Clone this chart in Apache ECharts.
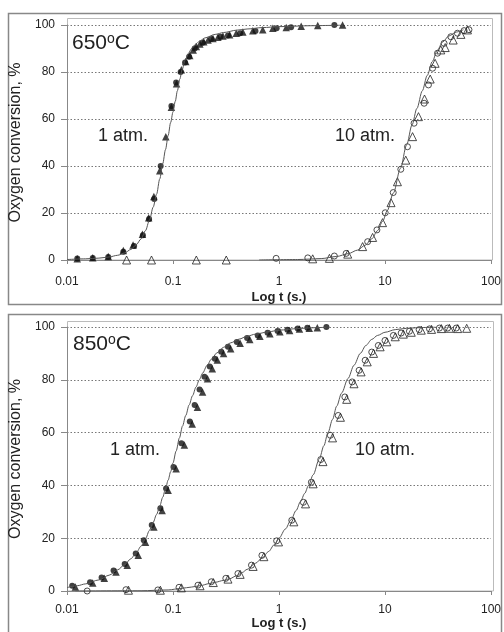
<!DOCTYPE html>
<html><head><meta charset="utf-8">
<script src="https://cdn.jsdelivr.net/npm/echarts@6/dist/echarts.min.js"></script>
<style>html,body{margin:0;padding:0;background:#fff}#c{width:504px;height:632px}</style>
</head><body><div id="c"></div>
<script>
// ---- tick labels ----
const xTickLabels = ['0.01', '0.1', '1', '10', '100'];
const yTickLabels = ['0', '20', '40', '60', '80', '100'];
const yTitle = 'Oxygen conversion, %';
const xTitle = 'Log t (s.)';

// ---- 650 °C ----
const t650_1atm_tri = [[0.0125,0.5],[0.0175,1],[0.0245,1.5],[0.034,4],[0.042,6.4],[0.0515,11],[0.059,18],[0.066,27],[0.075,38],[0.0855,52.5],[0.0966,65],[0.108,75],[0.12,81],[0.132,84.5],[0.144,87],[0.155,89.4],[0.166,90.8],[0.179,91.9],[0.195,92.9],[0.214,93.6],[0.238,94.3],[0.265,94.8],[0.296,95.3],[0.342,95.9],[0.395,96.5],[0.456,97],[0.566,97.6],[0.703,98],[0.874,98.6],[1.17,98.9],[1.62,99.5],[2.32,99.8],[3.98,100]];
const t650_1atm_circ = [[0.0125,0.6],[0.0175,0.8],[0.0245,1.3],[0.034,3.5],[0.043,6],[0.052,10.5],[0.0595,17.5],[0.0665,26],[0.0765,40],[0.0966,65.5],[0.107,75.5],[0.118,80],[0.13,84],[0.142,86.5],[0.16,90],[0.19,92.5],[0.23,94],[0.28,95],[0.33,95.5],[0.43,96.5],[0.6,97.5],[0.95,98.6],[1.3,99],[3.33,100]];
const t650_1atm_fit = [[0.01,0.2],[0.015,0.5],[0.02,0.8],[0.025,1.3],[0.03,2],[0.035,3],[0.04,4.5],[0.045,6.5],[0.05,9],[0.055,12.5],[0.06,17],[0.065,22.5],[0.07,28],[0.075,34.5],[0.08,41],[0.085,47],[0.09,53],[0.095,58.5],[0.1,63],[0.105,67.5],[0.11,72],[0.116,77],[0.122,81],[0.13,85],[0.14,88],[0.15,90],[0.165,92],[0.18,93.3],[0.2,94.5],[0.25,96],[0.3,96.8],[0.4,97.8],[0.5,98.3],[0.7,98.9],[1,99.3],[2,99.7],[4,100]];
const t650_10atm_tri = [[0.0365,0],[0.0627,0],[0.166,0],[0.318,0],[2.08,0.5],[2.99,0.7],[4.45,2.5],[6.15,5.7],[7.64,9.6],[9.48,15.9],[11.4,24.4],[13.1,33.3],[15.7,42.5],[18.2,52.5],[20.7,61],[23.6,68.5],[26.7,77],[29.7,83.7],[33.6,89.4],[37,90.4],[44,93.6],[52,96],[60,97.9]];
const t650_10atm_circ = [[0.94,0.7],[1.87,0.9],[3.33,1.7],[4.3,2.8],[6.86,7.8],[8.39,12.8],[10.05,20.1],[11.96,28.7],[14.1,38.6],[16.3,48.2],[18.8,58.2],[23.4,66.7],[25.7,74.5],[28.1,81.6],[31.3,88],[36.1,92.2],[41.8,95],[48.2,96.5],[55.7,97.6],[62,98]];
const t650_10atm_fit = [[0.65,0],[1.5,0.2],[2.5,0.6],[3.5,1.5],[4.5,2.7],[5.5,4.2],[6.5,6.3],[7.5,9],[8.5,12.5],[9.5,16.5],[10.5,21],[12,28.5],[14,39],[16,49],[18,57.5],[20,64.5],[22.5,72],[25,78.5],[28,84.5],[31,89],[35,92.8],[40,95.3],[47,97],[55,98]];

// ---- 850 °C ----
const t850_1atm_tri = [[0.012,1.5],[0.0175,3],[0.0225,4.8],[0.029,7.2],[0.037,9.8],[0.047,13.5],[0.055,18.5],[0.066,24.2],[0.079,30.5],[0.09,38.2],[0.107,46.3],[0.128,55.3],[0.152,63.3],[0.17,69.6],[0.19,75.4],[0.212,80.4],[0.235,84.2],[0.262,87.5],[0.3,90],[0.35,91.8],[0.43,93.8],[0.53,95.3],[0.66,96.5],[0.82,97.4],[1.02,98.2],[1.26,98.7],[1.56,99.2],[1.93,99.5],[2.3,99.7]];
const t850_1atm_circ = [[0.0112,2],[0.0165,3.3],[0.0212,5.1],[0.0275,7.8],[0.035,10.2],[0.0445,14.2],[0.053,19.2],[0.063,25],[0.076,31.3],[0.086,38.8],[0.101,47],[0.12,56],[0.144,64.2],[0.16,70.5],[0.178,76.3],[0.198,81.2],[0.222,85],[0.248,88],[0.285,90.6],[0.33,92.5],[0.4,94.3],[0.5,95.8],[0.63,96.8],[0.78,97.8],[0.97,98.5],[1.2,99],[1.5,99.4],[1.85,99.7],[2.8,100]];
const t850_1atm_fit = [[0.01,1.3],[0.0125,2],[0.015,2.7],[0.02,4.2],[0.025,6],[0.03,8],[0.035,10],[0.04,12.2],[0.045,14.5],[0.05,17],[0.055,19.8],[0.06,23],[0.065,26],[0.07,29],[0.075,32.2],[0.08,35.5],[0.085,38.8],[0.09,42],[0.095,45.2],[0.1,48.5],[0.107,53],[0.115,58],[0.123,62.5],[0.132,66.5],[0.142,70.5],[0.153,74],[0.165,77.3],[0.177,80],[0.19,82.5],[0.21,85.5],[0.23,87.8],[0.26,90.2],[0.3,92.3],[0.35,94],[0.42,95.4],[0.5,96.5],[0.6,97.3],[0.8,98.2],[1,98.8],[1.5,99.4],[2,99.7],[3,100]];
const t850_10atm_tri = [[0.038,0.3],[0.076,0.3],[0.12,1.2],[0.18,2],[0.24,3.2],[0.33,4.5],[0.43,6.3],[0.57,9.3],[0.72,13],[0.99,18.6],[1.38,26.2],[1.78,33],[2.1,40.6],[2.6,49],[3.2,58],[3.8,65.8],[4.35,72.6],[5.1,78.5],[5.95,83],[6.8,86.8],[7.8,90],[9,92.5],[10.4,94.4],[12.5,96.3],[14.9,97.3],[17.7,98],[22,98.8],[27.5,99.1],[34,99.4],[40.5,99.5],[48.5,99.4],[59,99.5]];
const t850_10atm_circ = [[0.0155,0],[0.036,0.5],[0.072,0.4],[0.114,1.4],[0.172,2.2],[0.23,3.5],[0.315,4.8],[0.41,6.6],[0.55,9.8],[0.69,13.5],[0.95,19],[1.32,26.8],[1.7,33.6],[2.02,41.2],[2.48,49.8],[3.05,59],[3.62,66.5],[4.18,73.5],[4.9,79.2],[5.7,83.6],[6.5,87.4],[7.5,90.5],[8.65,93],[10,94.9],[12,96.8],[14.2,97.7],[17,98.4],[21,99],[26.3,99.3],[32.6,99.6],[39,99.6],[47,99.6]];
const t850_10atm_fit = [[0.012,0],[0.05,0.1],[0.09,0.4],[0.12,1],[0.15,1.5],[0.18,2],[0.22,2.8],[0.25,3.3],[0.3,4],[0.34,4.6],[0.4,5.8],[0.45,7],[0.5,8.2],[0.6,10.5],[0.7,12.7],[0.8,15],[0.9,17.5],[1.0,20],[1.15,23.5],[1.3,27],[1.45,30.5],[1.6,34],[1.75,37],[1.9,40],[2.1,44],[2.4,50],[2.65,55],[2.9,60],[3.2,65],[3.5,70],[3.9,75],[4.48,80.5],[5.1,85.5],[5.85,90],[6.6,93],[7.5,95.3],[8.5,96.8],[10,98],[12.5,99],[16,99.5],[22,99.8],[30,100]];

const FONT = 'Liberation Sans, Arial, sans-serif';
const chart = echarts.init(document.getElementById('c'), null, {renderer: 'canvas'});

function xAxisCfg(gi, margin, gap) {
  return {
    gridIndex: gi, type: 'log', logBase: 10, min: 0.01, max: 100,
    name: xTitle, nameLocation: 'middle', nameGap: gap,
    nameTextStyle: {fontFamily: FONT, fontSize: 13, fontWeight: 'bold', color: '#222'},
    axisLine: {lineStyle: {color: '#888', width: 1}},
    axisTick: {show: true, inside: false, length: 4, lineStyle: {color: '#888'}},
    minorTick: {show: false},
    axisLabel: {fontFamily: FONT, fontSize: 12, color: '#222', margin: margin,
      formatter: (v, i) => xTickLabels[i]},
    splitLine: {show: false}
  };
}
function yAxisCfg(gi) {
  return {
    gridIndex: gi, type: 'value', min: 0, max: 100, interval: 20,
    name: yTitle, nameLocation: 'middle', nameGap: 34,
    nameTextStyle: {fontFamily: FONT, fontSize: 16, color: '#222'},
    axisLine: {show: true, lineStyle: {color: '#888', width: 1}},
    axisTick: {show: true, inside: false, length: 6, lineStyle: {color: '#888'}},
    axisLabel: {fontFamily: FONT, fontSize: 12, color: '#222', margin: 12,
      formatter: (v, i) => yTickLabels[i]},
    splitLine: {show: true, lineStyle: {color: '#777', type: [1.5, 2], width: 1}}
  };
}
function filledTri(data, gi) {
  return {type: 'scatter', xAxisIndex: gi, yAxisIndex: gi, data, symbol: 'triangle', symbolSize: 7.5,
    itemStyle: {color: '#111'}, z: 3, silent: true};
}
function filledCirc(data, gi) {
  return {type: 'scatter', xAxisIndex: gi, yAxisIndex: gi, data, symbol: 'circle', symbolSize: 6,
    itemStyle: {color: '#111'}, z: 3, silent: true};
}
function openTri(data, gi) {
  return {type: 'scatter', xAxisIndex: gi, yAxisIndex: gi, data, symbol: 'triangle', symbolSize: 8,
    itemStyle: {color: 'rgba(255,255,255,0)', borderColor: '#222', borderWidth: 1}, z: 3, silent: true};
}
function openCirc(data, gi) {
  return {type: 'scatter', xAxisIndex: gi, yAxisIndex: gi, data, symbol: 'circle', symbolSize: 6,
    itemStyle: {color: 'rgba(255,255,255,0)', borderColor: '#222', borderWidth: 1}, z: 3, silent: true};
}
function fitLine(data, gi) {
  return {type: 'line', xAxisIndex: gi, yAxisIndex: gi, data, showSymbol: false, symbol: 'none',
    smooth: 0.3, smoothMonotone: 'x', lineStyle: {color: '#555', width: 1}, z: 4, silent: true};
}

function label(x, y, text, size) {
  return {type: 'text', left: x, top: y, z: 10,
    style: {text, fontFamily: FONT, fontSize: size, fill: '#222'}};
}
function tempLabel(x, y, num) {
  return {type: 'text', left: x, top: y, z: 10,
    style: {text: '{a|' + num + '}{b|o}{a|C}',
      rich: {a: {fontFamily: FONT, fontSize: 21, fill: '#222', lineHeight: 22},
             b: {fontFamily: FONT, fontSize: 14, fill: '#222', lineHeight: 22, verticalAlign: 'top'}}}};
}

chart.setOption({
  animation: false,
  backgroundColor: '#fff',
  grid: [
    {left: 67, top: 25, width: 425, height: 235, containLabel: false},
    {left: 67, top: 327, width: 426, height: 264, containLabel: false}
  ],
  xAxis: [xAxisCfg(0, 16, 31), xAxisCfg(1, 13, 25)],
  yAxis: [yAxisCfg(0), yAxisCfg(1)],
  graphic: [
    {type: 'rect', shape: {x: 8.5, y: 13.5, width: 493, height: 291}, style: {fill: 'none', stroke: '#888', lineWidth: 1.5}, z: -1},
    {type: 'rect', shape: {x: 8.5, y: 314.5, width: 493, height: 340}, style: {fill: 'none', stroke: '#888', lineWidth: 1.5}, z: -1},
    {type: 'rect', shape: {x: 67.5, y: 18.5, width: 425, height: 241.5}, style: {fill: 'none', stroke: '#bbb', lineWidth: 1}, z: -1},
    {type: 'rect', shape: {x: 67.5, y: 321.5, width: 426, height: 269.5}, style: {fill: 'none', stroke: '#bbb', lineWidth: 1}, z: -1},
    tempLabel(72, 32, '650'),
    label(98, 127, '1 atm.', 18),
    label(335, 127, '10 atm.', 18),
    tempLabel(73, 333, '850'),
    label(110, 441, '1 atm.', 18),
    label(355, 441, '10 atm.', 18)
  ],
  series: [
    filledTri(t650_1atm_tri, 0), filledCirc(t650_1atm_circ, 0), fitLine(t650_1atm_fit, 0),
    openTri(t650_10atm_tri, 0), openCirc(t650_10atm_circ, 0), fitLine(t650_10atm_fit, 0),
    filledTri(t850_1atm_tri, 1), filledCirc(t850_1atm_circ, 1), fitLine(t850_1atm_fit, 1),
    openTri(t850_10atm_tri, 1), openCirc(t850_10atm_circ, 1), fitLine(t850_10atm_fit, 1)
  ]
});
</script></body></html>
